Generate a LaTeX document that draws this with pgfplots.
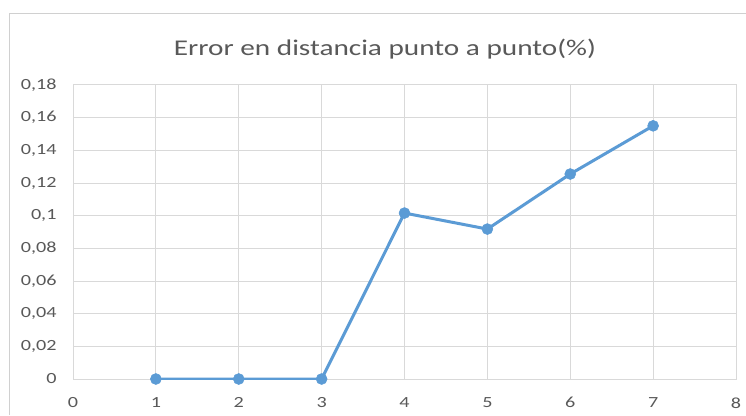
\documentclass[border=0pt]{standalone}
\usepackage{fontspec}
\setmainfont[FakeStretch=1.3]{Carlito}
\usepackage{pgfplots}
\pgfplotsset{compat=1.18}
\definecolor{txt}{HTML}{595959}
\definecolor{grd}{HTML}{D9D9D9}
\definecolor{ser}{HTML}{5B9BD5}
\definecolor{brd}{HTML}{D0D0D0}
\begin{document}
\begin{tikzpicture}[x=1bp,y=1bp]
\path[use as bounding box] (0,0) rectangle (746,415);
\fill[white] (0,0) rectangle (746,415);
\draw[brd, line width=1bp] (9,0) -- (9,401) -- (746,401);
\node[txt, font=\fontsize{22.5bp}{27bp}\selectfont, anchor=base] at (385,360) {Error en distancia punto a punto(\%)};
\begin{axis}[
  at={(73bp,36bp)}, anchor=south west,
  scale only axis, width=663bp, height=294bp,
  xmin=0, xmax=8, ymin=0, ymax=0.18,
  xtick={0,1,...,8},
  ytick={0,0.02,...,0.18},
  grid=major,
  major grid style={grd, line width=1bp},
  axis line style={grd, line width=1bp},
  major tick length=0pt,
  tick label style={txt, font=\fontsize{15.5bp}{18bp}\selectfont},
  /pgf/number format/assume math mode=true,
  /pgf/number format/use comma,
  /pgf/number format/fixed,
  /pgf/number format/precision=2,
  xticklabel style={yshift=-15bp},
  yticklabel style={xshift=-13bp},
]
\addplot[ser, line width=3bp, mark=*, mark size=5.5bp, mark options={fill=ser, draw=ser, line width=0.5bp}] coordinates {
(1,0) (2,0) (3,0) (4,0.1016) (5,0.0918) (6,0.1255) (7,0.155)
};
\end{axis}
\end{tikzpicture}
\end{document}
